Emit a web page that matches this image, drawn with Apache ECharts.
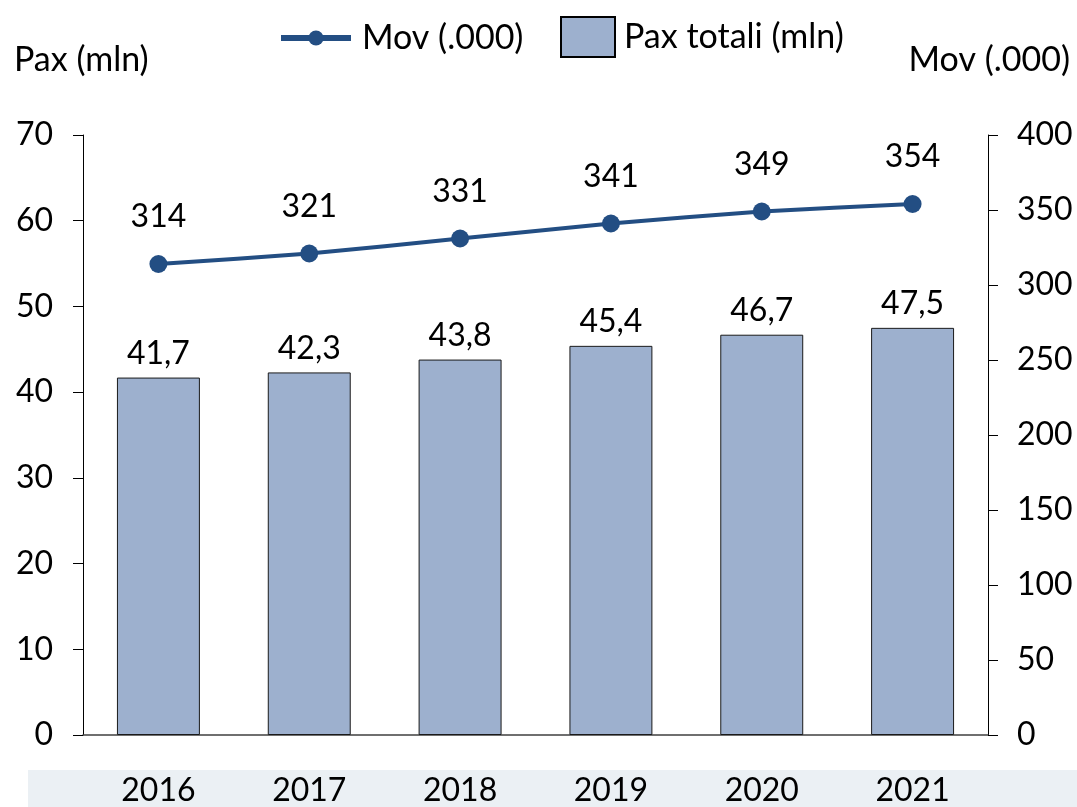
<!DOCTYPE html>
<html>
<head>
<meta charset="utf-8">
<script src="https://cdn.jsdelivr.net/npm/echarts@6/dist/echarts.min.js"></script>
<style>
    html, body { margin: 0; padding: 0; background: #fff; }
    #main { width: 1077px; height: 807px; }
</style>
</head>
<body>
<div id="main"></div>
<script>
var years = ['2016', '2017', '2018', '2019', '2020', '2021'];
var paxTotali = [41.7, 42.3, 43.8, 45.4, 46.7, 47.5];
var movimenti = [314, 321, 331, 341, 349, 354];
var leftTicks = { min: 0, max: 70, interval: 10 };
var rightTicks = { min: 0, max: 400, interval: 50 };

var font = 'Lato';
var txt = '#000';
var lineColor = '#234E83';

var chart = echarts.init(document.getElementById('main'));
chart.setOption({
    animation: false,
    textStyle: { fontFamily: font },
    graphic: [
        // grey band behind the year labels
        { type: 'rect', z: -1, shape: { x: 28, y: 770, width: 1049, height: 37 }, style: { fill: '#EBF0F4' } },
        { type: 'text', left: 14, top: 43, style: { text: 'Pax (mln)', font: '34px ' + font, fill: txt } },
        { type: 'text', right: 7, top: 43, style: { text: 'Mov (.000)', font: '34px ' + font, fill: txt } }
    ],
    legend: [
        {
            left: 273, top: 16,
            itemWidth: 70, itemHeight: 19, itemGap: 6,
            textStyle: { fontSize: 34, color: txt, fontFamily: font, padding: [0, 0, 0, 6] },
            data: [{ name: 'Mov (.000)', lineStyle: { width: 6, color: lineColor } }]
        },
        {
            left: 555, top: 11,
            itemWidth: 54, itemHeight: 40,
            textStyle: { fontSize: 34, color: txt, fontFamily: font, padding: [0, 0, 0, 4] },
            data: [{ name: 'Pax totali (mln)', icon: 'rect', itemStyle: { borderColor: '#000', borderWidth: 2 } }]
        }
    ],
    grid: { left: 83, right: 89, top: 135, bottom: 71 },
    xAxis: {
        type: 'category',
        data: years,
        axisLine: { lineStyle: { color: '#404040', width: 1.5 } },
        axisTick: { show: false },
        axisLabel: { fontSize: 32, color: txt, margin: 40 }
    },
    yAxis: [
        {
            type: 'value', min: leftTicks.min, max: leftTicks.max, interval: leftTicks.interval,
            axisLine: { show: true, lineStyle: { color: '#000' } },
            axisTick: { show: true, length: 10, lineStyle: { color: '#000' } },
            axisLabel: { fontSize: 32, color: txt, margin: 30 },
            splitLine: { show: false }
        },
        {
            type: 'value', min: rightTicks.min, max: rightTicks.max, interval: rightTicks.interval,
            position: 'right',
            axisLine: { show: true, lineStyle: { color: '#000' } },
            axisTick: { show: true, length: 10, lineStyle: { color: '#000' } },
            axisLabel: { fontSize: 32, color: txt, margin: 29 },
            splitLine: { show: false }
        }
    ],
    series: [
        {
            name: 'Pax totali (mln)',
            type: 'bar',
            yAxisIndex: 0,
            data: paxTotali,
            barWidth: '55%',
            itemStyle: { color: '#9DB0CE', borderColor: '#1a1a1a', borderWidth: 1 },
            label: {
                show: true, position: 'top', distance: 8, fontSize: 32, color: txt,
                formatter: function (p) { return p.value.toFixed(1).replace('.', ','); }
            }
        },
        {
            name: 'Mov (.000)',
            type: 'line',
            yAxisIndex: 1,
            data: movimenti,
            smooth: 0.2,
            symbol: 'circle',
            symbolSize: 18,
            lineStyle: { color: lineColor, width: 4 },
            itemStyle: { color: lineColor },
            label: { show: true, position: 'top', distance: 22, fontSize: 32, color: txt }
        }
    ]
});
</script>
</body>
</html>
